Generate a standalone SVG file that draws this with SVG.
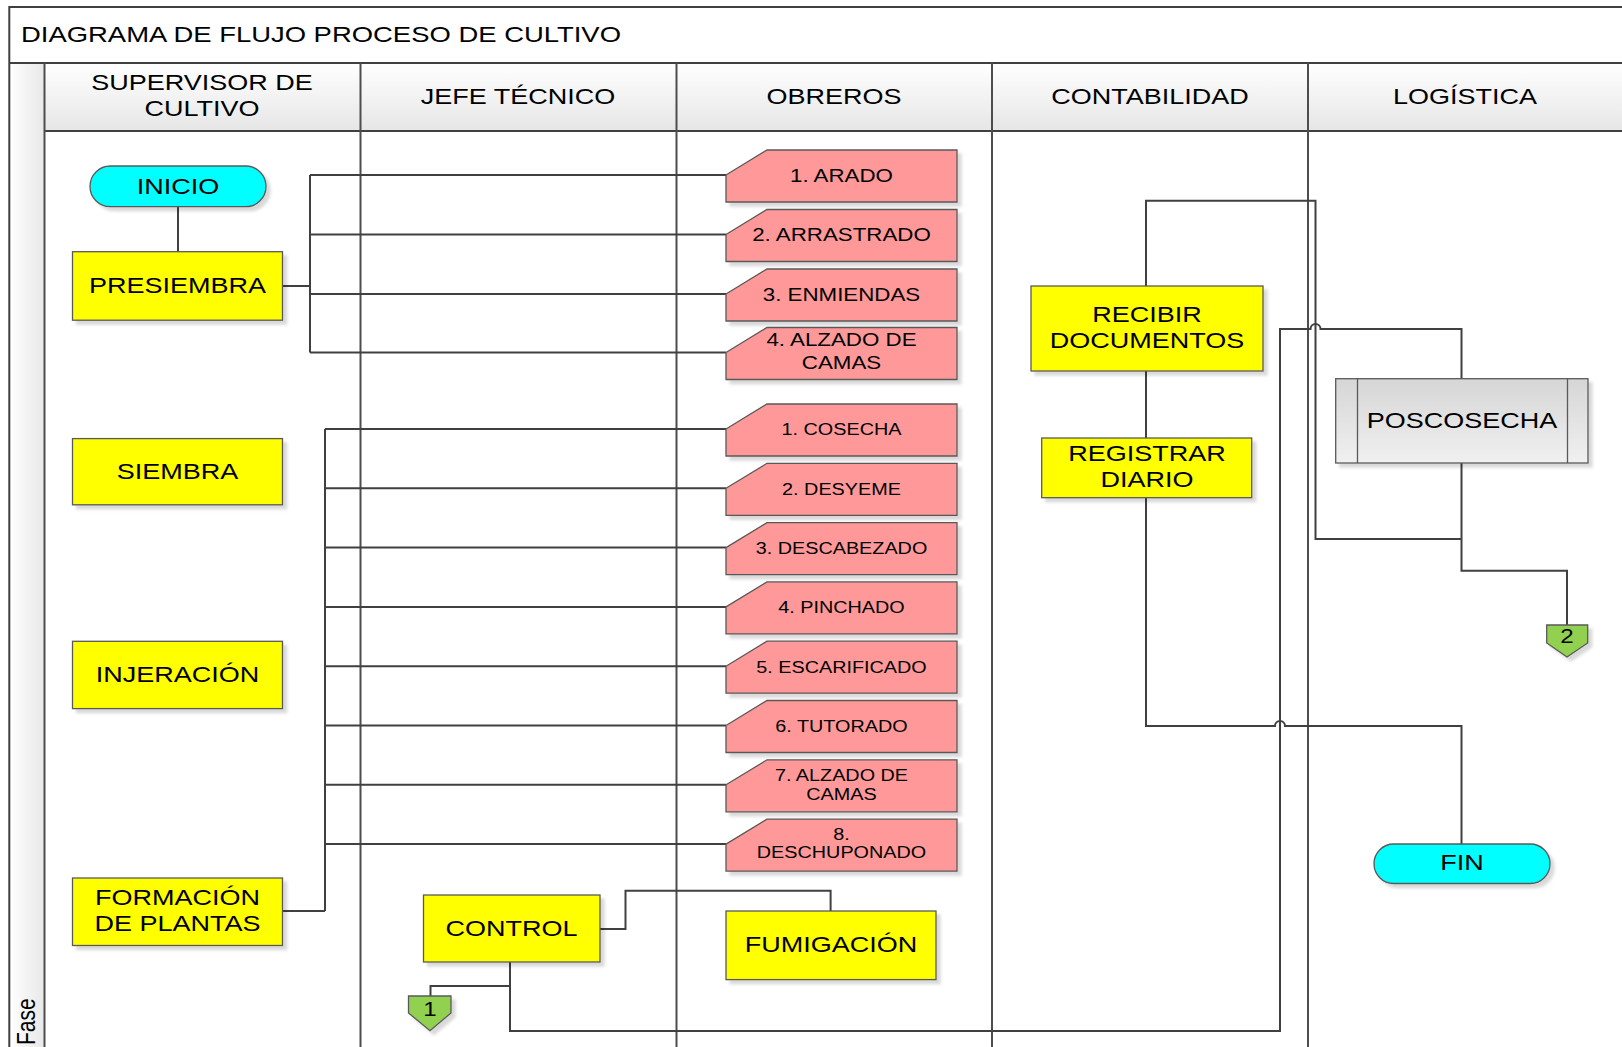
<svg xmlns="http://www.w3.org/2000/svg" width="1622" height="1047" viewBox="0 0 1622 1047">
<style>
text{font-family:"Liberation Sans",Arial,sans-serif;fill:#000}
.t{font-size:22.5px;text-anchor:middle}
.p1{font-size:18.3px;text-anchor:middle}
.p2{font-size:16.5px;text-anchor:middle}
.frame{fill:none;stroke:#404040;stroke-width:2}
.lane{stroke:#4d4d4d;stroke-width:2;fill:none}
.con{fill:none;stroke:#404040;stroke-width:2}
.y{fill:#ffff00;stroke:#595959;stroke-width:1.3;filter:url(#sh)}
.pk{fill:#ff9999;stroke:#595959;stroke-width:1.3;filter:url(#sh)}
.cy{fill:#00ffff;stroke:#595959;stroke-width:1.3;filter:url(#sh)}
.g{fill:#92d050;stroke:#595959;stroke-width:1.3;filter:url(#sh)}
</style>
<defs>
<filter id="sh" x="-10%" y="-10%" width="130%" height="140%">
<feDropShadow dx="4" dy="4" stdDeviation="1.5" flood-color="#000" flood-opacity="0.15"/>
</filter>
<linearGradient id="hdr" x1="0" y1="0" x2="0" y2="1">
<stop offset="0" stop-color="#ffffff"/><stop offset="1" stop-color="#e6e6e6"/>
</linearGradient>
<linearGradient id="fase" x1="0" y1="0" x2="1" y2="0">
<stop offset="0" stop-color="#ffffff"/><stop offset="1" stop-color="#e8e8e8"/>
</linearGradient>
<linearGradient id="pos" x1="0" y1="0" x2="0" y2="1">
<stop offset="0" stop-color="#d6d6d6"/><stop offset="1" stop-color="#f0f0f0"/>
</linearGradient>
</defs>
<rect width="1622" height="1047" fill="#ffffff"/>

<g id="frame">
<rect x="9.3" y="63" width="35.2" height="990" fill="url(#fase)"/>
<rect x="44.5" y="63" width="1580" height="68" fill="url(#hdr)"/>
<path class="frame" d="M9.3,1050 V7 H1624 M9.3,63 H1624 M44.5,131 H1624"/>
<path class="lane" d="M44.5,63 V1050 M360.5,63 V1050 M676.5,63 V1050 M992,63 V1050 M1308,63 V1050"/>
<text transform="translate(21,41.5) scale(1.22,1)" style="font-size:22.5px">DIAGRAMA DE FLUJO PROCESO DE CULTIVO</text>
<text transform="translate(35,1045) rotate(-90) scale(1,1.2)" style="font-size:21px">Fase</text>
<text class="t" transform="translate(202,90) scale(1.2,1)">SUPERVISOR DE</text>
<text class="t" transform="translate(202,116) scale(1.2,1)">CULTIVO</text>
<text class="t" transform="translate(518,104) scale(1.2,1)">JEFE TÉCNICO</text>
<text class="t" transform="translate(834,104) scale(1.2,1)">OBREROS</text>
<text class="t" transform="translate(1150,104) scale(1.2,1)">CONTABILIDAD</text>
<text class="t" transform="translate(1465,104) scale(1.2,1)">LOGÍSTICA</text>
</g>

<g id="connectors">
<path class="con" d="M178,206.7 V251.7"/>
<path class="con" d="M282.7,286 H310 M310,175 V352.5 M310,175 H726 M310,234.5 H726 M310,294 H726 M310,352.5 H726"/>
<path class="con" d="M282.6,911 H325 M325,429 V911 M325,429 H726 M325,488.3 H726 M325,547.6 H726 M325,606.9 H726 M325,666.2 H726 M325,725.5 H726 M325,784.8 H726 M325,844.1 H726"/>
<path class="con" d="M600,929 H625.5 V890.7 H830.6 V911"/>
<path class="con" d="M510,962 V1031 H1280 V329 H1310.5 A5,5 0 0 1 1320.5,329 H1461.5 V378.7"/>
<path class="con" d="M510,986 H430.5 V996"/>
<path class="con" d="M1146,286 V200.7 H1315.5 V539 H1461.5"/>
<path class="con" d="M1146,371 V438"/>
<path class="con" d="M1146,497.7 V726 H1275 A5,5 0 0 1 1285,726 H1461.5 V844"/>
<path class="con" d="M1461.5,463 V570.7 H1567 V625"/>
</g>

<g id="inicio">
<rect class="cy" x="90" y="166" width="176" height="40.7" rx="20.3"/>
<text class="t" transform="translate(178,193.5) scale(1.2,1)">INICIO</text>
</g>
<g id="presiembra">
<rect class="y" x="72.5" y="251.7" width="210" height="68.5"/>
<text class="t" transform="translate(177.5,292.5) scale(1.2,1)">PRESIEMBRA</text>
</g>
<g id="siembra">
<rect class="y" x="72.5" y="438.6" width="210" height="66.2"/>
<text class="t" transform="translate(177.5,478.5) scale(1.2,1)">SIEMBRA</text>
</g>
<g id="injeracion">
<rect class="y" x="72.5" y="641.3" width="210" height="67.3"/>
<text class="t" transform="translate(177.5,681.8) scale(1.2,1)">INJERACIÓN</text>
</g>
<g id="formacion">
<rect class="y" x="72.5" y="878" width="210" height="67.5"/>
<text class="t" transform="translate(177.5,905) scale(1.2,1)">FORMACIÓN</text>
<text class="t" transform="translate(177.5,931) scale(1.2,1)">DE PLANTAS</text>
</g>
<g id="control">
<rect class="y" x="423.5" y="895" width="176.5" height="67"/>
<text class="t" transform="translate(511.5,935.8) scale(1.2,1)">CONTROL</text>
</g>
<g id="fumigacion">
<rect class="y" x="726" y="911" width="210" height="68.6"/>
<text class="t" transform="translate(831,952.3) scale(1.2,1)">FUMIGACIÓN</text>
</g>
<g id="conector1">
<path class="g" d="M408.5,996 H451 V1013 L430,1030.7 L408.5,1013 Z"/>
<text transform="translate(430,1015.5) scale(1.15,1)" style="font-size:21px;text-anchor:middle">1</text>
</g>

<g id="arado">
<path class="pk" d="M726,175 L767,150 H957 V202 H726 Z"/>
<text class="p1" transform="translate(841.5,181.5) scale(1.22,1)">1. ARADO</text>
</g>
<g id="arrastrado">
<path class="pk" d="M726,234.5 L767,209.5 H957 V261.5 H726 Z"/>
<text class="p1" transform="translate(841.5,241) scale(1.22,1)">2. ARRASTRADO</text>
</g>
<g id="enmiendas">
<path class="pk" d="M726,294 L767,269 H957 V321 H726 Z"/>
<text class="p1" transform="translate(841.5,300.5) scale(1.22,1)">3. ENMIENDAS</text>
</g>
<g id="alzado1">
<path class="pk" d="M726,352.5 L767,327.5 H957 V379.5 H726 Z"/>
<text class="p1" transform="translate(841.5,346.3) scale(1.22,1)">4. ALZADO DE</text>
<text class="p1" transform="translate(841.5,369) scale(1.22,1)">CAMAS</text>
</g>

<g id="cosecha">
<path class="pk" d="M726,429 L767,404 H957 V456 H726 Z"/>
<text class="p2" transform="translate(841.5,435.3) scale(1.2,1)">1. COSECHA</text>
</g>
<g id="desyeme">
<path class="pk" d="M726,488.3 L767,463.3 H957 V515.3 H726 Z"/>
<text class="p2" transform="translate(841.5,494.6) scale(1.2,1)">2. DESYEME</text>
</g>
<g id="descabezado">
<path class="pk" d="M726,547.6 L767,522.6 H957 V574.6 H726 Z"/>
<text class="p2" transform="translate(841.5,553.9) scale(1.2,1)">3. DESCABEZADO</text>
</g>
<g id="pinchado">
<path class="pk" d="M726,606.9 L767,581.9 H957 V633.9 H726 Z"/>
<text class="p2" transform="translate(841.5,613.2) scale(1.2,1)">4. PINCHADO</text>
</g>
<g id="escarificado">
<path class="pk" d="M726,666.2 L767,641.2 H957 V693.2 H726 Z"/>
<text class="p2" transform="translate(841.5,672.5) scale(1.2,1)">5. ESCARIFICADO</text>
</g>
<g id="tutorado">
<path class="pk" d="M726,725.5 L767,700.5 H957 V752.5 H726 Z"/>
<text class="p2" transform="translate(841.5,731.8) scale(1.2,1)">6. TUTORADO</text>
</g>
<g id="alzado2">
<path class="pk" d="M726,784.8 L767,759.8 H957 V811.8 H726 Z"/>
<text class="p2" transform="translate(841.5,780.5) scale(1.2,1)">7. ALZADO DE</text>
<text class="p2" transform="translate(841.5,799.5) scale(1.2,1)">CAMAS</text>
</g>
<g id="deschuponado">
<path class="pk" d="M726,844.1 L767,819.1 H957 V871.1 H726 Z"/>
<text class="p2" transform="translate(841.5,839.5) scale(1.2,1)">8.</text>
<text class="p2" transform="translate(841.5,858) scale(1.2,1)">DESCHUPONADO</text>
</g>

<g id="recibir">
<rect class="y" x="1031" y="286" width="232" height="85"/>
<text class="t" transform="translate(1147,321.5) scale(1.2,1)">RECIBIR</text>
<text class="t" transform="translate(1147,347.5) scale(1.2,1)">DOCUMENTOS</text>
</g>
<g id="registrar">
<rect class="y" x="1041.7" y="438" width="210" height="59.7"/>
<text class="t" transform="translate(1147,461) scale(1.2,1)">REGISTRAR</text>
<text class="t" transform="translate(1147,487) scale(1.2,1)">DIARIO</text>
</g>
<g id="poscosecha">
<rect x="1335.7" y="378.7" width="252.3" height="84.3" fill="url(#pos)" stroke="#595959" stroke-width="1.3" filter="url(#sh)"/>
<path d="M1357.5,378.7 V463 M1567.5,378.7 V463" stroke="#595959" stroke-width="1.3"/>
<text class="t" transform="translate(1462,427.5) scale(1.2,1)">POSCOSECHA</text>
</g>
<g id="conector2">
<path class="g" d="M1546.7,625 H1587.7 V643 L1567,657 L1546.7,643 Z"/>
<text transform="translate(1567,643) scale(1.15,1)" style="font-size:21px;text-anchor:middle">2</text>
</g>
<g id="fin">
<rect class="cy" x="1374" y="844" width="176" height="39.5" rx="19.7"/>
<text class="t" transform="translate(1462,870.3) scale(1.2,1)">FIN</text>
</g>
</svg>
